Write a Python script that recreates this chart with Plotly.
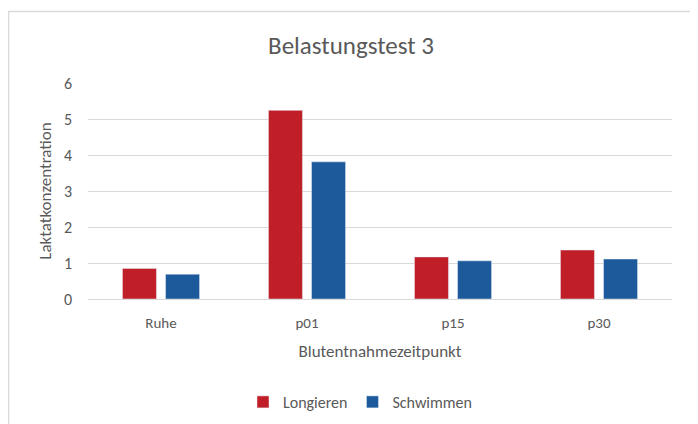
import plotly.graph_objects as go

categories = ["Ruhe", "p01", "p15", "p30"]
longieren = [0.85, 5.24, 1.17, 1.36]
schwimmen = [0.69, 3.81, 1.06, 1.11]
y_ticks = [0, 1, 2, 3, 4, 5, 6]

FONT = "Carlito, Calibri, Lato, sans-serif"
GREY = "#595959"

fig = go.Figure()
fig.add_trace(go.Bar(x=categories, y=longieren, name="Longieren", marker_color="#C11F27"))
fig.add_trace(go.Bar(x=categories, y=schwimmen, name="Schwimmen", marker_color="#1C5A9C"))

# page body has an 8px margin; positions below are in figure coordinates
OFF = 8
W, H = 698 - OFF, 424 - OFF
L, R, T, B = 88 - OFF, 698 - 672, 83 - OFF, 424 - 299
pw, ph = W - L - R, H - T - B

def px_x(px):
    return (px - OFF - L) / pw

def px_y(py):
    return (H - B - (py - OFF)) / ph

fig.update_layout(
    width=W, height=H,
    margin=dict(l=L, r=R, t=T, b=B, autoexpand=False),
    paper_bgcolor="white", plot_bgcolor="white",
    font=dict(family=FONT, color=GREY, size=16),
    barmode="group", bargap=0.41, bargroupgap=0.21,
    title=dict(text="Belastungstest 3", xref="container", x=(351 - OFF) / W, xanchor="center",
               yref="container", y=1 - (45 - OFF) / H, yanchor="middle",
               font=dict(size=25, color=GREY, family=FONT)),
    xaxis=dict(type="category", range=[-0.5, 3.5], showgrid=False, showline=True, automargin=False,
               linecolor="#d9d9d9", linewidth=1, ticks="", ticklabelstandoff=10,
               tickfont=dict(size=15, color=GREY),
               title=dict(text="Blutentnahmezeitpunkt", font=dict(size=17, color=GREY), standoff=14)),
    yaxis=dict(range=[0, 6], tickvals=y_ticks, showgrid=True, gridcolor="#d9d9d9", gridwidth=1,
               automargin=False,
               zeroline=False, showline=False, ticks="", ticklabelstandoff=15,
               tickfont=dict(size=16, color=GREY),
               title=dict(text="Laktatkonzentration", font=dict(size=17, color=GREY), standoff=7)),
    legend=dict(orientation="h", x=px_x(360), xanchor="center", y=px_y(402), yanchor="middle",
                font=dict(size=16, color=GREY), itemwidth=30, traceorder="normal"),
    showlegend=True,
)

fig.add_shape(type="rect", xref="paper", yref="paper",
              x0=px_x(8.5), x1=px_x(710), y0=px_y(440), y1=px_y(11.5),
              line=dict(color="#d9d9d9", width=1.5), fillcolor="rgba(0,0,0,0)", layer="below")

fig.write_html("out.html")
